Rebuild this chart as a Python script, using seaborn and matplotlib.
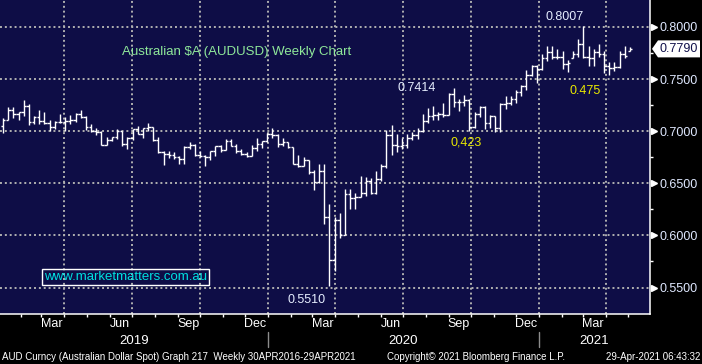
import matplotlib

matplotlib.use("Agg")
import matplotlib.dates as mdates
import matplotlib.pyplot as plt
import matplotlib.transforms as mtransforms
import numpy as np
import pandas as pd
import seaborn as sns
from matplotlib.patches import Polygon

# weekly AUDUSD bars, week ending Friday
week_ending = pd.date_range("2019-01-04", "2021-04-30", freq="W-FRI")

opens = [
    0.7046, 0.7110, 0.7200, 0.7165, 0.7180, 0.7245, 0.7090, 0.7140, 0.7095, 0.7080,
    0.7040, 0.7090, 0.7090, 0.7100, 0.7110, 0.7165, 0.7140, 0.7045, 0.7000, 0.6990,
    0.6870, 0.6915, 0.6940, 0.7000, 0.6875, 0.6935, 0.7020, 0.6975, 0.7030, 0.7040,
    0.6915, 0.6805, 0.6780, 0.6775, 0.6755, 0.6730, 0.6850, 0.6870, 0.6775, 0.6760,
    0.6755, 0.6810, 0.6855, 0.6820, 0.6910, 0.6860, 0.6810, 0.6785, 0.6765, 0.6835,
    0.6880, 0.6905,
    0.6975, 0.6960, 0.6875, 0.6900, 0.6845, 0.6690, 0.6670, 0.6720, 0.6610, 0.6510,
    0.6620, 0.6180, 0.5760, 0.6150, 0.6000, 0.6400, 0.6355, 0.6365, 0.6405, 0.6525,
    0.6405, 0.6540, 0.6665, 0.6960, 0.6870, 0.6855, 0.6865, 0.6935, 0.6965, 0.7000,
    0.7100, 0.7145, 0.7160, 0.7165, 0.7160, 0.7355, 0.7280, 0.7280, 0.7300, 0.7040,
    0.7165, 0.7235, 0.7080, 0.7145, 0.7030, 0.7265, 0.7270, 0.7305, 0.7375, 0.7430,
    0.7535, 0.7630,
    0.7600, 0.7700, 0.7760, 0.7710, 0.7715, 0.7645, 0.7700, 0.7745, 0.7840, 0.7715,
    0.7700, 0.7760, 0.7740, 0.7625, 0.7610, 0.7620, 0.7740, 0.7770,
]
highs = [
    0.7124, 0.7236, 0.7235, 0.7185, 0.7296, 0.7260, 0.7150, 0.7205, 0.7180, 0.7105,
    0.7095, 0.7168, 0.7135, 0.7155, 0.7170, 0.7206, 0.7150, 0.7070, 0.7030, 0.7005,
    0.6945, 0.6940, 0.7020, 0.7005, 0.6945, 0.7025, 0.7048, 0.7030, 0.7082, 0.7045,
    0.6940, 0.6810, 0.6810, 0.6800, 0.6765, 0.6860, 0.6895, 0.6880, 0.6810, 0.6770,
    0.6810, 0.6860, 0.6870, 0.6929, 0.6930, 0.6875, 0.6830, 0.6805, 0.6865, 0.6939,
    0.6910, 0.6985,
    0.7032, 0.6970, 0.6935, 0.6900, 0.6850, 0.6775, 0.6755, 0.6725, 0.6630, 0.6685,
    0.6685, 0.6300, 0.6180, 0.6215, 0.6445, 0.6445, 0.6410, 0.6570, 0.6560, 0.6550,
    0.6615, 0.6685, 0.7015, 0.7064, 0.6975, 0.6935, 0.6975, 0.6990, 0.7030, 0.7165,
    0.7225, 0.7240, 0.7185, 0.7275, 0.7365, 0.7414, 0.7305, 0.7345, 0.7310, 0.7185,
    0.7245, 0.7243, 0.7160, 0.7150, 0.7275, 0.7340, 0.7340, 0.7400, 0.7440, 0.7590,
    0.7640, 0.7640,
    0.7745, 0.7820, 0.7820, 0.7785, 0.7765, 0.7680, 0.7770, 0.7880, 0.8007, 0.7820,
    0.7790, 0.7840, 0.7765, 0.7665, 0.7665, 0.7770, 0.7815, 0.7812,
]
lows = [
    0.6980, 0.7105, 0.7130, 0.7110, 0.7145, 0.7055, 0.7070, 0.7070, 0.7070, 0.7005,
    0.7025, 0.7075, 0.7005, 0.7070, 0.7090, 0.7125, 0.7010, 0.6990, 0.6965, 0.6865,
    0.6865, 0.6905, 0.6930, 0.6860, 0.6830, 0.6920, 0.6970, 0.6935, 0.7000, 0.6905,
    0.6790, 0.6677, 0.6745, 0.6735, 0.6690, 0.6688, 0.6825, 0.6760, 0.6755, 0.6670,
    0.6720, 0.6760, 0.6800, 0.6820, 0.6855, 0.6790, 0.6770, 0.6755, 0.6760, 0.6810,
    0.6840, 0.6895,
    0.6935, 0.6850, 0.6860, 0.6835, 0.6685, 0.6660, 0.6670, 0.6585, 0.6435, 0.6500,
    0.6110, 0.5510, 0.5660, 0.5980, 0.6000, 0.6255, 0.6255, 0.6365, 0.6375, 0.6400,
    0.6400, 0.6520, 0.6650, 0.6775, 0.6800, 0.6830, 0.6835, 0.6920, 0.6925, 0.6990,
    0.7080, 0.7110, 0.7110, 0.7135, 0.7155, 0.7230, 0.7190, 0.7245, 0.7006, 0.7030,
    0.7135, 0.7020, 0.7030, 0.6990, 0.6995, 0.7215, 0.7255, 0.7270, 0.7340, 0.7395,
    0.7525, 0.7462,
    0.7590, 0.7675, 0.7690, 0.7690, 0.7595, 0.7565, 0.7700, 0.7710, 0.7700, 0.7630,
    0.7630, 0.7710, 0.7560, 0.7540, 0.7575, 0.7610, 0.7700, 0.7765,
]
closes = [
    0.7110, 0.7200, 0.7165, 0.7180, 0.7245, 0.7090, 0.7140, 0.7095, 0.7080, 0.7040,
    0.7090, 0.7090, 0.7100, 0.7110, 0.7165, 0.7140, 0.7045, 0.7000, 0.6990, 0.6870,
    0.6915, 0.6940, 0.7000, 0.6875, 0.6935, 0.7020, 0.6975, 0.7030, 0.7040, 0.6915,
    0.6805, 0.6780, 0.6775, 0.6755, 0.6730, 0.6850, 0.6870, 0.6775, 0.6760, 0.6755,
    0.6810, 0.6855, 0.6820, 0.6910, 0.6860, 0.6810, 0.6785, 0.6765, 0.6835, 0.6880,
    0.6905, 0.6975,
    0.6960, 0.6875, 0.6900, 0.6845, 0.6690, 0.6670, 0.6720, 0.6610, 0.6510, 0.6620,
    0.6180, 0.5760, 0.6150, 0.6000, 0.6400, 0.6355, 0.6365, 0.6405, 0.6525, 0.6405,
    0.6540, 0.6665, 0.6960, 0.6870, 0.6855, 0.6865, 0.6935, 0.6965, 0.7000, 0.7100,
    0.7145, 0.7160, 0.7165, 0.7160, 0.7355, 0.7280, 0.7280, 0.7300, 0.7040, 0.7165,
    0.7235, 0.7080, 0.7145, 0.7030, 0.7265, 0.7270, 0.7305, 0.7375, 0.7430, 0.7535,
    0.7630, 0.7600,
    0.7700, 0.7760, 0.7710, 0.7715, 0.7645, 0.7650, 0.7745, 0.7840, 0.7715, 0.7700,
    0.7760, 0.7740, 0.7625, 0.7610, 0.7620, 0.7740, 0.7725, 0.7790,
]

price_ticks = [0.55, 0.60, 0.65, 0.70, 0.75, 0.80]
label_months = pd.date_range("2019-03-01", "2021-03-01", freq="3MS")
year_starts = pd.to_datetime(["2020-01-01", "2021-01-01"])
year_labels = ["2019", "2020", "2021"]
x_start, x_end = pd.Timestamp("2019-01-04"), pd.Timestamp("2021-05-31")

W, H = 702, 364


def px(x, y):
    return x / W, 1 - y / H


sns.set_theme(style="dark", rc={"figure.facecolor": "black", "savefig.facecolor": "black",
                                "axes.facecolor": "#0e0d46"})
plt.rcParams["font.family"] = ["Liberation Sans", "DejaVu Sans"]

fig = plt.figure(figsize=(W / 100, H / 100), dpi=100)
ax = fig.add_axes([0, 50 / H, 650 / W, 314 / H])

x = mdates.date2num(week_ending + pd.Timedelta(days=4))
arm = 3.3
ax.vlines(x, lows, highs, color="white", lw=1.0, zorder=3)
ax.hlines(opens, x - arm, x, color="white", lw=1.0, zorder=3)
ax.hlines(closes, x, x + arm, color="white", lw=1.0, zorder=3)

ax.set_xlim(mdates.date2num(x_start), mdates.date2num(x_end))
ax.set_ylim(0.5246, 0.8259)

# ticks and dotted grid
ax.set_yticks(price_ticks)
ax.set_yticks(np.array(price_ticks[:-1]) + 0.025, minor=True)
ax.xaxis.set_major_locator(mdates.MonthLocator(bymonth=[1, 4, 7, 10]))
ax.xaxis.set_minor_locator(mdates.MonthLocator())
ax.xaxis.set_major_formatter(plt.NullFormatter())
ax.set_axisbelow(True)

for side in ["left", "top"]:
    ax.spines[side].set_visible(False)
for side in ["right", "bottom"]:
    ax.spines[side].set_color("white")
    ax.spines[side].set_linewidth(1.1)

ax.yaxis.tick_right()
ax.yaxis.set_major_formatter(plt.FuncFormatter(lambda v, _: f"{v:.4f}"))
ax.tick_params(axis="y", which="major", length=0, pad=7, labelsize=9, labelcolor="#dfe8ff")
ax.tick_params(axis="y", which="minor", length=2.5, width=1, color="white", direction="out", right=True, left=False)
ax.tick_params(axis="x", which="both", length=2.2, width=1, color="white", direction="out", bottom=True)
ax.grid(True, which="major", axis="both", color="#b0b0b0", linestyle=(0, (1, 1.5)), linewidth=1.4)

# triangle markers at the price ticks
tri = mtransforms.blended_transform_factory(ax.transAxes, ax.transData)
ax.plot([1 + 3.5 / 650] * len(price_ticks), price_ticks, ls="none", marker=">", ms=4.5,
        color="white", transform=tri, clip_on=False, zorder=5)

# month and year labels
lab = mtransforms.blended_transform_factory(ax.transData, ax.transAxes)
for m in label_months:
    ax.text(mdates.date2num(m + pd.Timedelta(days=14)), -10 / 314, m.strftime("%b"),
            transform=lab, ha="center", va="center", fontsize=9, color="white")
bounds = [x_start] + list(year_starts) + [x_end]
for a, b, name in zip(bounds[:-1], bounds[1:], year_labels):
    mid = (mdates.date2num(a) + mdates.date2num(b)) / 2
    ax.text(mid, -27 / 314, name, transform=lab, ha="center", va="center", fontsize=9.5, color="white")
for ys in year_starts:
    ax.plot([mdates.date2num(ys)] * 2, [-18 / 314, -33 / 314], color="#8c8c8c", lw=1,
            transform=lab, clip_on=False)

# annotations
fig.text(*px(122, 52), "Australian $A (AUDUSD) Weekly Chart", color="#8fe89a", fontsize=9.5, va="center")
fig.text(*px(545, 17), "0.8007", color="#e6eeff", fontsize=9, va="center")
fig.text(*px(398, 88), "0.7414", color="#e6eeff", fontsize=9, va="center")
fig.text(*px(288, 300), "0.5510", color="#e6eeff", fontsize=9, va="center")
fig.text(*px(450, 143), "0,423", color="#e8e800", fontsize=9, va="center")
fig.text(*px(570, 91), "0.475", color="#e8e800", fontsize=9, va="center")
fig.text(*px(44, 277), "www.marketmatters.com.au", color="#00e0e0", fontsize=9.5, va="center",
         bbox=dict(facecolor="none", edgecolor="white", lw=1, pad=1.5))

# last price flag
fig.canvas.draw()
_, y_disp = ax.transData.transform((0, closes[-1]))
y_last = H - y_disp
flag = [(652, y_last), (658, y_last - 8.5), (700, y_last - 8.5), (700, y_last + 8.5), (658, y_last + 8.5)]
fig.patches.append(Polygon([px(a, b) for a, b in flag], closed=True, facecolor="white",
                           edgecolor="none", transform=fig.transFigure, figure=fig))
fig.text(*px(679, y_last), f"{closes[-1]:.4f}", color="#10104a", fontsize=9, ha="center", va="center")

# footer
fig.text(*px(2, 357), "AUD Curncy (Australian Dollar Spot) Graph 217  Weekly 30APR2016-29APR2021",
         color="white", fontsize=7.0, va="center")
fig.text(*px(387, 357), "Copyright\u00a9 2021 Bloomberg Finance L.P.", color="white", fontsize=7.0, va="center")
fig.text(*px(700, 357), "29-Apr-2021 06:43:32", color="white", fontsize=7.0, va="center", ha="right")

fig.savefig("out.png", dpi=100)
